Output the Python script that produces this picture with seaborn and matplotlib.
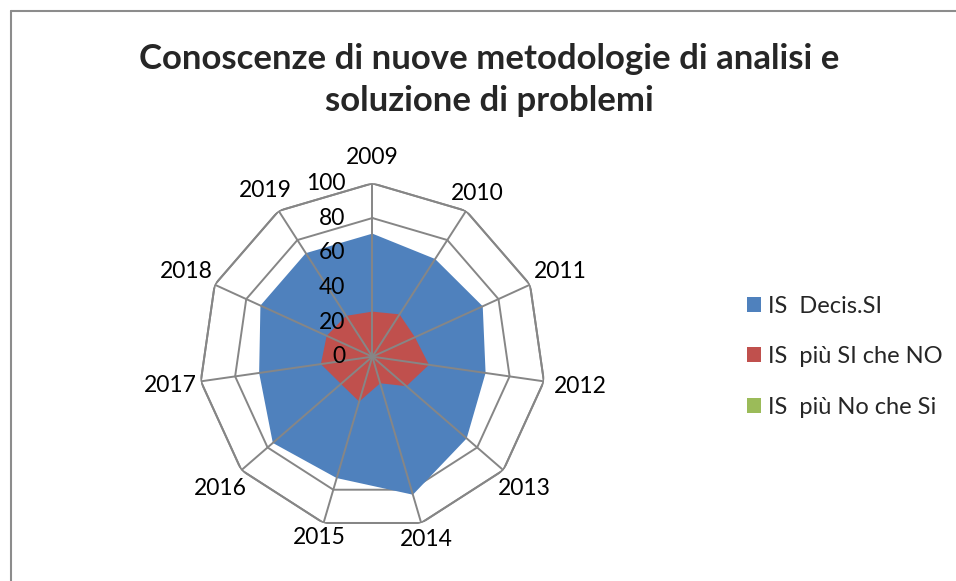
import matplotlib
matplotlib.use("Agg")

import numpy as np
import seaborn as sns
import matplotlib.pyplot as plt
from matplotlib.patches import Patch
from matplotlib.lines import Line2D

# Data
years = ["2009", "2010", "2011", "2012", "2013", "2014",
         "2015", "2016", "2017", "2018", "2019"]
decis_si = [71, 67, 70, 66, 72, 83, 73, 76, 66, 71, 71]
piu_si_che_no = [26, 29, 27, 33, 26, 16, 27, 24, 30, 29, 28]
piu_no_che_si = [0, 0, 0, 0, 0, 0, 0, 0, 0, 0, 0]
series_names = ["IS  Decis.SI", "IS  più SI che NO", "IS  più No che Si"]
radial_ticks = [0, 20, 40, 60, 80, 100]

sns.set_theme(style="white")
plt.rcParams["font.family"] = ["Lato", "DejaVu Sans"]

colors = ["#4F81BD", "#C0504D", "#9BBB59"]
grid_col = "#868686"

fig = plt.figure(figsize=(9.56, 5.81), dpi=100)
ax = fig.add_axes([0.2082, 0.0878, 0.3626, 0.5966], projection="polar")
ax.set_theta_zero_location("N")
ax.set_theta_direction(-1)

n = len(years)
angles = np.linspace(0, 2 * np.pi, n, endpoint=False)
closed = np.append(angles, angles[0])

# rings sit under the filled areas, spokes above them (as in Excel)
for r in radial_ticks[1:]:
    ax.plot(closed, [r] * (n + 1), color=grid_col, lw=1.4, zorder=1)

for vals, col in zip([decis_si, piu_si_che_no, piu_no_che_si], colors):
    v = np.append(vals, vals[0])
    ax.fill(closed, v, color=col, lw=0, zorder=2)

ax.plot(closed, [100] * (n + 1), color=grid_col, lw=1.4, zorder=3)
for a in angles:
    ax.plot([a, a], [0, 100], color=grid_col, lw=1.4, zorder=3)

ax.set_ylim(0, 100)
ax.grid(False)
ax.spines["polar"].set_visible(False)
ax.set_xticks([])
ax.set_yticks([])
ax.set_facecolor("none")

for r in radial_ticks:
    ax.annotate(str(r), xy=(0, r), xytext=(-27, 0), textcoords="offset pixels",
                ha="right", va="center", fontsize=16.5, color="black",
                annotation_clip=False, zorder=5)

label_r = [115, 112, 119, 121, 116, 110, 109, 116, 118, 118, 114]
for a, lab, lr in zip(angles, years, label_r):
    ax.text(a, lr, lab, ha="center", va="center", fontsize=16.5,
            color="black", clip_on=False)

fig.text(0.512, 0.862, "Conoscenze di nuove metodologie di analisi e\nsoluzione di problemi",
         ha="center", va="center", fontsize=25, fontweight="bold",
         linespacing=1.4)

handles = [Patch(facecolor=c, edgecolor="none") for c in colors]
fig.legend(handles, series_names, loc="center left",
           bbox_to_anchor=(0.781, 0.386), frameon=False, fontsize=17,
           handlelength=0.6, handleheight=0.6, handletextpad=0.3,
           labelspacing=1.25, borderaxespad=0, borderpad=0)

# chart area border (top and left edges visible)
fig.add_artist(Line2D([11 / 956, 1], [1 - 11 / 581, 1 - 11 / 581],
                      transform=fig.transFigure, color="#8c8c8c", lw=1.5))
fig.add_artist(Line2D([11 / 956, 11 / 956], [0, 1 - 11 / 581],
                      transform=fig.transFigure, color="#8c8c8c", lw=1.5))

fig.savefig("out.png", dpi=100)
plt.close(fig)
